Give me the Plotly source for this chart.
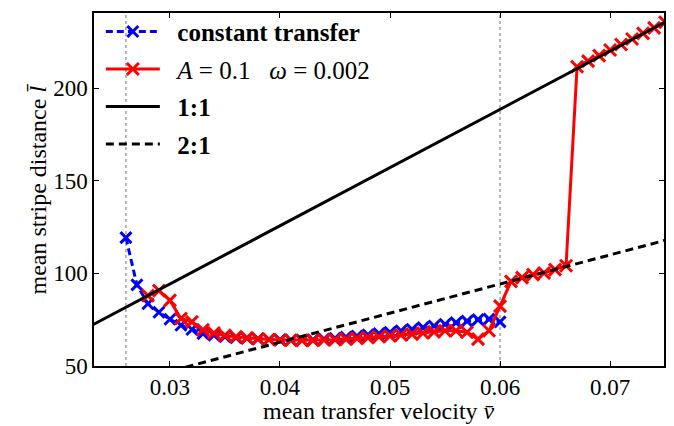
import plotly.graph_objects as go
import math

# ---- data ----
v_const = [0.026, 0.027, 0.028, 0.029, 0.030, 0.031, 0.032, 0.033, 0.034, 0.035,
           0.036, 0.037, 0.038, 0.039, 0.040, 0.041, 0.042, 0.043, 0.044, 0.045,
           0.046, 0.047, 0.048, 0.049, 0.050, 0.051, 0.052, 0.053, 0.054, 0.055,
           0.056, 0.057, 0.058, 0.059, 0.060]
l_const = [119.3, 93.8, 83.6, 79.0, 75.2, 72.0, 69.7, 67.5, 66.6, 65.8,
           65.3, 65.0, 64.6, 64.3, 64.1, 64.0, 64.0, 64.2, 64.5, 65.0,
           65.6, 66.2, 66.8, 67.5, 68.2, 69.0, 69.8, 70.7, 71.6, 72.5,
           73.4, 74.2, 75.0, 75.3, 73.8]

v_osc = [0.028, 0.029, 0.030, 0.031, 0.032, 0.033, 0.034, 0.035, 0.036, 0.037,
         0.038, 0.039, 0.040, 0.041, 0.042, 0.043, 0.044, 0.045, 0.046, 0.047,
         0.048, 0.049, 0.050, 0.051, 0.052, 0.053, 0.054, 0.055, 0.056, 0.057,
         0.058, 0.059, 0.060, 0.061, 0.062, 0.063, 0.064, 0.065, 0.066, 0.067,
         0.068, 0.069, 0.070, 0.071, 0.072, 0.073, 0.074, 0.075]
l_osc = [88.0, 90.7, 85.4, 75.6, 73.8, 69.5, 67.8, 66.5, 65.8, 65.2,
         64.7, 64.3, 64.0, 63.9, 63.8, 63.8, 64.0, 64.2, 64.5, 64.9,
         65.3, 65.8, 66.2, 66.7, 67.2, 67.8, 68.4, 69.0, 69.0, 68.2,
         64.5, 69.0, 82.3, 95.7, 97.7, 99.3, 100.2, 102.0, 104.1, 211.5,
         214.5, 217.5, 220.5, 223.5, 226.5, 229.5, 232.5, 235.5]

omega = 0.002
ratio_v = [0.02, 0.08]          # span of the reference lines
vlines = [0.026, 0.060]          # dotted markers

x_ticks = [0.03, 0.04, 0.05, 0.06, 0.07]
y_ticks = [50, 100, 150, 200]

x_title = "mean transfer velocity <i>v̄</i>"
y_title = "mean stripe distance <i>l̄</i>"

period = 2 * math.pi / omega
l_11 = [v * period for v in ratio_v]
l_21 = [v * period / 2 for v in ratio_v]

FONT = "Liberation Serif"
PAD = "\u00a0\u00a0"

fig = go.Figure()

for xv in vlines:
    fig.add_shape(type="line", xref="x", yref="paper", x0=xv, x1=xv, y0=0, y1=1,
                  line=dict(color="#a0a0a0", width=1.5, dash="dot"), layer="below")

fig.add_trace(go.Scatter(
    x=v_const, y=l_const, mode="lines+markers", name=PAD + "<b>constant transfer</b>",
    legendgroup="a",
    line=dict(color="#0000ff", width=3, dash="7px,4px"),
    marker=dict(symbol="x-thin", size=11, line=dict(color="#0000ff", width=3))))

fig.add_trace(go.Scatter(
    x=v_osc, y=l_osc, mode="lines+markers",
    name=PAD + "<i>A</i> = 0.1\u00a0\u00a0 <i>ω</i> = 0.002",
    legendgroup="b",
    line=dict(color="#ff0000", width=3),
    marker=dict(symbol="x-thin", size=12, line=dict(color="#ff0000", width=3))))

fig.add_trace(go.Scatter(
    x=ratio_v, y=l_11, mode="lines", name=PAD + "<b>1:1</b>", legendgroup="c",
    line=dict(color="black", width=3)))

fig.add_trace(go.Scatter(
    x=ratio_v, y=l_21, mode="lines", name=PAD + "<b>2:1</b>", legendgroup="d",
    line=dict(color="black", width=3, dash="8px,5px")))

axis_common = dict(
    showline=True, linecolor="black", linewidth=1.5, mirror="ticks",
    ticks="inside", ticklen=5, tickwidth=1, tickcolor="black",
    showgrid=False, zeroline=False,
    tickfont=dict(family=FONT, size=23, color="black"),
)

fig.update_xaxes(range=[0.0231, 0.0749], tickvals=x_ticks,
                 ticktext=[f"{t:.2f}" for t in x_ticks], **axis_common)
fig.update_yaxes(range=[50, 240.5], tickvals=y_ticks, **axis_common)

fig.add_annotation(text=x_title, xref="paper", yref="paper", x=0.5, y=-0.128,
                   xanchor="center", yanchor="middle", showarrow=False,
                   font=dict(family=FONT, size=24, color="black"))
fig.add_annotation(text=y_title, xref="paper", yref="paper", x=-0.1, y=0.5,
                   xanchor="center", yanchor="middle", showarrow=False, textangle=-90,
                   font=dict(family=FONT, size=24, color="black"))

fig.update_layout(
    width=674, height=426,
    margin=dict(l=86, r=18, t=1, b=68),
    paper_bgcolor="white", plot_bgcolor="white",
    showlegend=True,
    legend=dict(x=0.012, y=1.012, xanchor="left", yanchor="top",
                bgcolor="rgba(0,0,0,0)", borderwidth=0,
                font=dict(family=FONT, size=25, color="black"),
                tracegroupgap=2, itemwidth=54),
)

fig.write_html("out.html")
